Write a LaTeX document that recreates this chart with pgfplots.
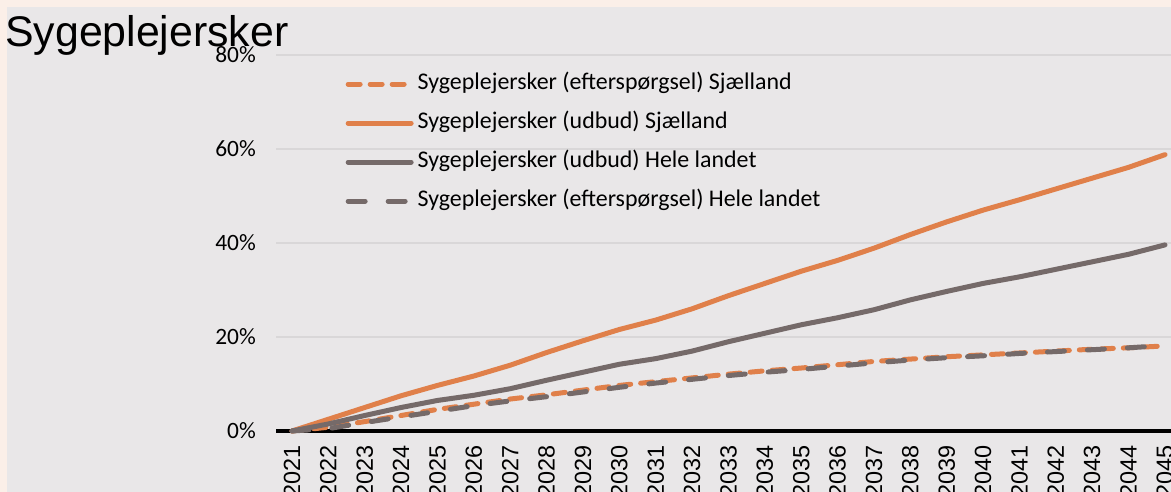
\documentclass[border=0pt]{standalone}
\usepackage{pgfplots}
\pgfplotsset{compat=1.18}
\usepackage{fontspec}
\setmainfont{Carlito}
\newfontfamily\arial{Liberation Sans}
\definecolor{bg}{HTML}{E9E7E8}
\definecolor{peach}{HTML}{FBEFE8}
\definecolor{myorange}{HTML}{E0804A}
\definecolor{mygray}{HTML}{756A69}
\definecolor{gridc}{HTML}{D9D7D8}
\begin{document}
\begin{tikzpicture}
\path[use as bounding box, fill=peach] (0,0) rectangle (1171bp,492bp);
\fill[bg] (7bp,0) rectangle (1171bp,485bp);
\begin{axis}[
  at={(276bp,61bp)}, anchor=south west,
  x=36.375bp, y=4.7bp,
  xmin=2020.56, xmax=2045.4, ymin=0, ymax=80,
  axis lines*=left, separate axis lines,
  x axis line style={line width=3.5bp, black},
  y axis line style={draw=none},
  major tick length=0pt,
  xtick={2021,...,2045},
  xticklabels={2021,2022,2023,2024,2025,2026,2027,2028,2029,2030,2031,2032,2033,2034,2035,2036,2037,2038,2039,2040,2041,2042,2043,2044,2045},
  xticklabel style={font=\arial\fontsize{23.5}{23.5}\selectfont, rotate=90, anchor=east, inner sep=0pt},
  xticklabel shift=14bp,
  ytick={0,20,40,60,80},
  yticklabels={0\%,20\%,40\%,60\%,80\%},
  yticklabel style={font=\fontsize{23.5}{23.5}\selectfont, anchor=east, inner sep=0pt},
  yticklabel shift=20bp,
  ymajorgrids, grid style={gridc, line width=1.5bp},
  clip=false,
  legend cell align=left,
  legend image code/.code={\draw[#1] (0bp,0bp) -- (63bp,0bp);},
  legend style={at={(axis cs:2022.47,76.3)}, anchor=north west, draw=none, fill=none,
    font=\fontsize{24}{24}\selectfont, inner sep=0pt, row sep=16bp, column sep=4bp,
    nodes={inner sep=0pt, text height=17bp, text depth=6bp}},
]
\addplot[myorange, line width=5bp, line cap=round, dash pattern=on 12bp off 10bp] coordinates {
(2021,0) (2022,0.8) (2023,2.0) (2024,3.3) (2025,4.6) (2026,5.7) (2027,6.8) (2028,7.7) (2029,8.7) (2030,9.7) (2031,10.5) (2032,11.3) (2033,12.1) (2034,12.8) (2035,13.4) (2036,14.1) (2037,14.8) (2038,15.3) (2039,15.8) (2040,16.2) (2041,16.6) (2042,17.0) (2043,17.4) (2044,17.7) (2045,18.1)};
\addlegendentry{Sygeplejersker (efterspørgsel) Sjælland}
\addplot[myorange, line width=5bp, line cap=round] coordinates {
(2021,0) (2022,2.5) (2023,5.0) (2024,7.5) (2025,9.7) (2026,11.7) (2027,14.0) (2028,16.7) (2029,19.2) (2030,21.6) (2031,23.6) (2032,26.0) (2033,28.8) (2034,31.4) (2035,34.0) (2036,36.3) (2037,38.9) (2038,41.8) (2039,44.5) (2040,47.0) (2041,49.2) (2042,51.5) (2043,53.8) (2044,56.1) (2045,58.8)};
\addlegendentry{Sygeplejersker (udbud) Sjælland}
\addplot[mygray, line width=5bp, line cap=round] coordinates {
(2021,0) (2022,1.5) (2023,3.3) (2024,5.0) (2025,6.5) (2026,7.6) (2027,9.0) (2028,10.8) (2029,12.5) (2030,14.2) (2031,15.4) (2032,17.0) (2033,19.0) (2034,20.8) (2035,22.6) (2036,24.1) (2037,25.8) (2038,27.9) (2039,29.7) (2040,31.4) (2041,32.8) (2042,34.4) (2043,36.0) (2044,37.6) (2045,39.6)};
\addlegendentry{Sygeplejersker (udbud) Hele landet}
\addplot[mygray, line width=5bp, line cap=round, dash pattern=on 17bp off 23bp] coordinates {
(2021,0) (2022,0.5) (2023,1.8) (2024,3.0) (2025,4.2) (2026,5.4) (2027,6.4) (2028,7.3) (2029,8.3) (2030,9.3) (2031,10.2) (2032,11.0) (2033,11.8) (2034,12.5) (2035,13.1) (2036,13.8) (2037,14.5) (2038,15.1) (2039,15.6) (2040,16.0) (2041,16.5) (2042,16.9) (2043,17.3) (2044,17.7) (2045,18.2)};
\addlegendentry{Sygeplejersker (efterspørgsel) Hele landet}
\end{axis}
\node[anchor=base west, inner sep=0pt, font=\arial\fontsize{43}{43}\selectfont] at (5bp,445bp) {Sygeplejersker};
\end{tikzpicture}
\end{document}
